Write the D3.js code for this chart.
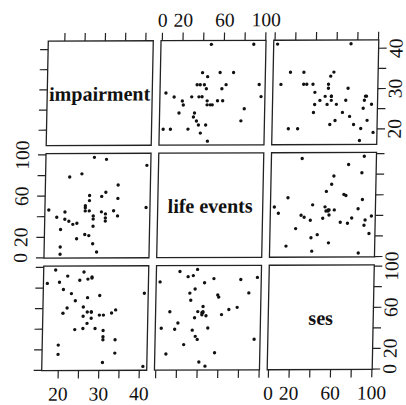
<!DOCTYPE html>
<html><head><meta charset="utf-8">
<script src="https://cdn.jsdelivr.net/npm/d3@7"></script>
<style>body{margin:0;background:#fff}</style>
</head><body>
<svg id="chart" width="406" height="405"></svg>
<script>
// ---- data ----
const variableNames = ["impairment", "life events", "ses"];
const impairment = [17,19,20,20,20,21,21,22,22,23,24,24,25,26,26,26,26,27,27,27,27,28,28,28,28,28,29,30,30,31,31,31,31,31,33,34,34,34,41,41];
const lifeEvents = [46,39,27,3,10,44,37,35,78,32,33,18,81,22,50,48,45,21,55,45,60,97,37,30,13,40,5,59,44,35,95,63,42,38,45,70,57,40,48,89];
const ses        = [84,97,24,85,15,55,78,91,60,74,67,39,87,95,40,52,61,45,88,56,70,89,50,90,56,56,40,72,53,38,29,53,7,32,55,58,16,29,3,74];
const impTicks = [20,25,30,35,40];
const impTickLabels = [20,30,40];
const scoreTicks = [0,20,40,60,80,100];
const scoreTickLabels = [0,20,60,100];

const columns = [impairment, lifeEvents, ses];
const tickSets = [impTicks, scoreTicks, scoreTicks];
const labelSets = [impTickLabels, scoreTickLabels, scoreTickLabels];

// ---- layout ----
const W = 105, H = 104.5, gapX = 7.75, gapY = 8;
const x0 = 45, y0 = 40.5;
const colX = [0,1,2].map(j => x0 + j*(W+gapX));
const rowY = [0,1,2].map(i => y0 + i*(H+gapY));
const FONT = "'Liberation Serif','Times New Roman',Times,serif";
const n = columns.length;

function paddedDomain(arr){
  const [mn, mx] = d3.extent(arr);
  const pad = (mx - mn) * 0.04;
  return [mn - pad, mx + pad];
}
const xScales = columns.map((c,j) => d3.scaleLinear().domain(paddedDomain(c)).range([colX[j], colX[j]+W]));
const yScales = columns.map((c,i) => d3.scaleLinear().domain(paddedDomain(c)).range([rowY[i]+H, rowY[i]]));

const svg = d3.select("#chart");
svg.append("rect").attr("width",406).attr("height",405).attr("fill","#fff");
const g = svg.append("g")
  .attr("transform","translate(210,205) matrix(1,-0.004,-0.02,1,0,0) translate(-210,-205)");

for (let i=0;i<n;i++){
  for (let j=0;j<n;j++){
    const cell = g.append("g");
    cell.append("rect")
      .attr("x",colX[j]).attr("y",rowY[i]).attr("width",W).attr("height",H)
      .attr("fill","none").attr("stroke","#222").attr("stroke-width",1.3);
    if (i===j){
      cell.append("text")
        .attr("x",colX[j]+W/2).attr("y",rowY[i]+H/2+7.5)
        .attr("text-anchor","middle")
        .attr("font-family",FONT).attr("font-weight","bold").attr("font-size","20px")
        .attr("fill","#111")
        .text(variableNames[i]);
    } else {
      const xs = columns[j], ys = columns[i];
      cell.selectAll("circle").data(d3.range(xs.length)).join("circle")
        .attr("cx",k => xScales[j](xs[k]))
        .attr("cy",k => yScales[i](ys[k]))
        .attr("r",1.7).attr("fill","#111");
    }
  }
}

function fmt(labels){ return d => labels.includes(d) ? String(d) : ""; }
function styleAxis(sel){
  sel.select(".domain").remove();
  sel.selectAll("line").attr("stroke","#222").attr("stroke-width",1.2);
  sel.selectAll("text").attr("font-family",FONT).attr("font-size","19.5px").attr("fill","#111");
}

// top axes (row 0), labels on column 1
for (let j=0;j<n;j++){
  const ax = g.append("g").attr("transform",`translate(0,${rowY[0]})`)
    .call(d3.axisTop(xScales[j]).tickValues(tickSets[j]).tickSize(8).tickSizeOuter(0)
      .tickFormat(j===1 ? fmt(labelSets[j]) : () => ""));
  styleAxis(ax);
  ax.selectAll("text").attr("y",-14).attr("dy",0);
}
// bottom axes (row 2), labels on columns 0 and 2
for (let j=0;j<n;j++){
  const ax = g.append("g").attr("transform",`translate(0,${rowY[2]+H})`)
    .call(d3.axisBottom(xScales[j]).tickValues(tickSets[j]).tickSize(8).tickSizeOuter(0)
      .tickFormat(j!==1 ? fmt(labelSets[j]) : () => ""));
  styleAxis(ax);
  ax.selectAll("text").attr("y",30).attr("dy",0);
}
// left axes (col 0), labels on row 1
for (let i=0;i<n;i++){
  const ax = g.append("g").attr("transform",`translate(${colX[0]},0)`)
    .call(d3.axisLeft(yScales[i]).tickValues(tickSets[i]).tickSize(8).tickSizeOuter(0)
      .tickFormat(i===1 ? fmt(labelSets[i]) : () => ""));
  styleAxis(ax);
  ax.selectAll("text").attr("x",0).attr("y",0).attr("dy",0)
    .attr("text-anchor","middle").attr("transform","translate(-17,0) rotate(-90)");
}
// right axes (col 2), labels on rows 0 and 2
for (let i=0;i<n;i++){
  const ax = g.append("g").attr("transform",`translate(${colX[2]+W},0)`)
    .call(d3.axisRight(yScales[i]).tickValues(tickSets[i]).tickSize(8).tickSizeOuter(0)
      .tickFormat(i!==1 ? fmt(labelSets[i]) : () => ""));
  styleAxis(ax);
  ax.selectAll("text").attr("x",0).attr("y",0).attr("dy",0)
    .attr("text-anchor","middle").attr("transform","translate(24,0) rotate(-90)");
}
</script>
</body></html>
